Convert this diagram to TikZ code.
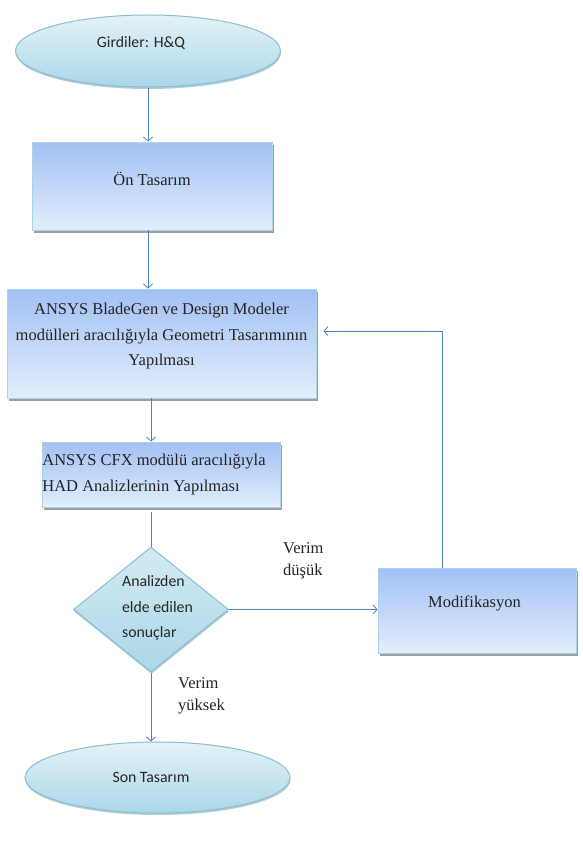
\documentclass[tikz,border=0pt]{standalone}
\usepackage{fontspec}
\setmainfont{Liberation Serif}
\newfontfamily\calib{Carlito}
\usetikzlibrary{shapes.geometric,shadows,arrows.meta}
\definecolor{linec}{HTML}{4F81BD}
\definecolor{recttop}{HTML}{A2C0F4}
\definecolor{rectbot}{HTML}{E2EEFC}
\definecolor{rectdraw}{HTML}{A9D3E6}
\definecolor{elltop}{HTML}{E4F2F8}
\definecolor{ellbot}{HTML}{AAD7E7}
\definecolor{elldraw}{HTML}{88BFD2}
\definecolor{txtc}{HTML}{222222}
\begin{document}
\begin{tikzpicture}[x=1pt,y=-1pt,
  procbox/.style={rectangle, draw=rectdraw, line width=0.9pt, top color=recttop, bottom color=rectbot,
    inner sep=0pt, drop shadow={shadow xshift=1.5pt, shadow yshift=-3pt, fill=black!38, opacity=1}},
  term/.style={ellipse, draw=elldraw, line width=1pt, top color=elltop, bottom color=ellbot,
    inner sep=0pt, drop shadow={shadow xshift=0.5pt, shadow yshift=-2pt, fill=elldraw!80!black, opacity=0.5}},
  decis/.style={diamond, draw=elldraw, line width=1pt, top color=elltop!70!ellbot, bottom color=ellbot,
    inner sep=0pt, drop shadow={shadow xshift=0.5pt, shadow yshift=-2pt, fill=elldraw!80!black, opacity=0.5}},
  sertxt/.style={font=\fontsize{16.5}{25.5}\selectfont, text=txtc, inner sep=0pt},
  santxt/.style={font=\calib\fontsize{15.8}{25.5}\selectfont, text=black!85, inner sep=0pt},
  lbl/.style={font=\fontsize{16.5}{22}\selectfont, text=txtc, align=left, inner sep=0pt},
  conn/.style={draw=linec, line width=0.8pt},
  arr/.style={conn, -{Straight Barb[length=4pt,width=9pt]}}
]
\useasboundingbox (0,0) rectangle (583,851);

% nodes
\node[term, minimum width=265pt, minimum height=72pt,
  label={[santxt, shift={(-7pt,8pt)}]center:{Girdiler: H\&Q}}] (gir) at (148,51) {};

\node[procbox, minimum width=240pt, minimum height=88pt,
  label={[sertxt, shift={(0pt,7pt)}]center:{Ön Tasarım}}] (on) at (152,186) {};

\node[procbox, minimum width=309pt, minimum height=109pt,
  label={[sertxt, align=center, shift={(0pt,7pt)}]center:{ANSYS BladeGen ve Design Modeler\\modülleri aracılığıyla Geometri Tasarımının\\Yapılması}}] (geo) at (161.5,343.5) {};

\node[procbox, minimum width=238pt, minimum height=65pt,
  label={[sertxt, align=left, shift={(-7pt,0pt)}]center:{ANSYS CFX modülü aracılığıyla\\HAD Analizlerinin Yapılması}}] (cfx) at (161,474.5) {};

\node[decis, minimum width=155pt, minimum height=125pt,
  label={[santxt, align=left, shift={(6.5pt,1.5pt)}]center:{Analizden\\elde edilen\\sonuçlar}}] (dec) at (151,609.5) {};

\node[procbox, minimum width=198pt, minimum height=85pt,
  label={[sertxt, shift={(-2.5pt,7pt)}]center:{Modifikasyon}}] (mod) at (477,610.5) {};

\node[term, minimum width=265pt, minimum height=71pt,
  label={[santxt, shift={(-6.5pt,0pt)}]center:{Son Tasarım}}] (son) at (157.5,777.5) {};

% edge labels
\node[lbl, anchor=north west] (vd) at (283,542) {Verim\\düşük};
\node[lbl, anchor=north west] (vy) at (178,677) {Verim\\yüksek};

% connectors
\draw[arr] (gir.south) -- (gir.south |- on.north);
\draw[arr] (on.south -| gir.south) -- (gir.south |- geo.north);
\draw[arr] (geo.south -| dec.north) -- (dec.north |- cfx.north);
\draw[conn, shorten <=5pt] (cfx.south -| dec.north) -- (dec.north);
\draw[arr] (dec.east) -- (dec.east -| mod.west);
\draw[arr, shorten >=7pt] ([xshift=-35pt]mod.north) |- ([yshift=12.5pt]geo.east);
\draw[arr] (dec.south) -- (dec.south |- son.north);
\end{tikzpicture}
\end{document}
